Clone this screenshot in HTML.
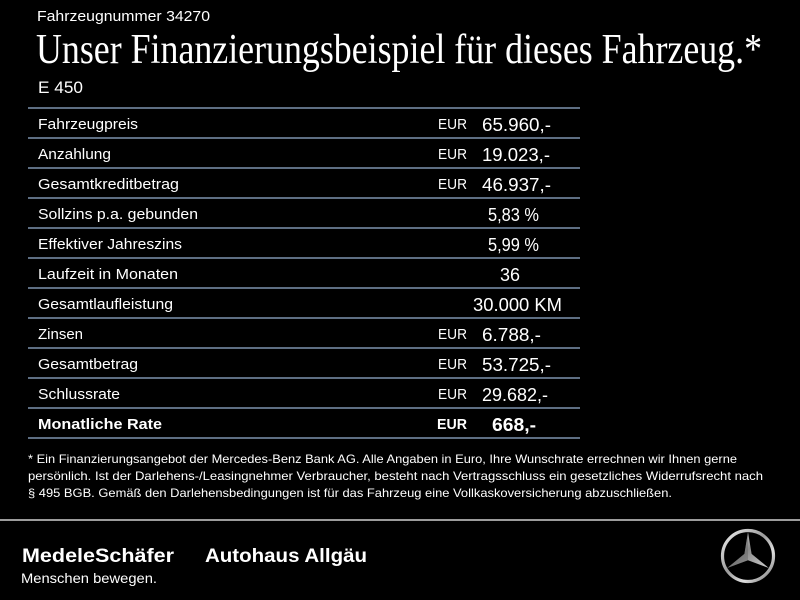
<!DOCTYPE html>
<html><head><meta charset="utf-8">
<style>
html,body{margin:0;padding:0;background:#000;}
svg{display:block;}
text{font-family:"Liberation Sans",sans-serif;fill:#fff;}
.serif{font-family:"Liberation Serif",serif;}
</style></head>
<body>
<svg width="800" height="600" viewBox="0 0 800 600" xmlns="http://www.w3.org/2000/svg">
<defs>
<linearGradient id="ln" x1="0" y1="0" x2="0" y2="1">
<stop offset="0" stop-color="#3e4e62"/><stop offset="0.5" stop-color="#7d8ea3"/><stop offset="1" stop-color="#3e4e62"/>
</linearGradient>
<linearGradient id="silver" x1="0" y1="0" x2="1" y2="1">
<stop offset="0" stop-color="#f4f4f4"/><stop offset="0.45" stop-color="#9a9a9a"/><stop offset="0.7" stop-color="#e0e0e0"/><stop offset="1" stop-color="#6a6a6a"/>
</linearGradient>
<linearGradient id="star" x1="0" y1="0" x2="1" y2="1">
<stop offset="0" stop-color="#e8e8e8"/><stop offset="0.5" stop-color="#8a8a8a"/><stop offset="1" stop-color="#cfcfcf"/>
</linearGradient>
</defs>
<rect width="800" height="600" fill="#000"/>

<text x="37" y="21" font-size="15" textLength="173" lengthAdjust="spacingAndGlyphs">Fahrzeugnummer 34270</text>
<text class="serif" x="36" y="63" font-size="42" textLength="726" lengthAdjust="spacingAndGlyphs">Unser Finanzierungsbeispiel für dieses Fahrzeug.*</text>
<text x="38" y="93" font-size="17" textLength="45" lengthAdjust="spacingAndGlyphs">E 450</text>

<g fill="url(#ln)">
<rect x="28" y="107" width="552" height="2"/>
<rect x="28" y="137" width="552" height="2"/>
<rect x="28" y="167" width="552" height="2"/>
<rect x="28" y="197" width="552" height="2"/>
<rect x="28" y="227" width="552" height="2"/>
<rect x="28" y="257" width="552" height="2"/>
<rect x="28" y="287" width="552" height="2"/>
<rect x="28" y="317" width="552" height="2"/>
<rect x="28" y="347" width="552" height="2"/>
<rect x="28" y="377" width="552" height="2"/>
<rect x="28" y="407" width="552" height="2"/>
<rect x="28" y="437" width="552" height="2"/>
</g>

<g font-size="15">
<text x="38" y="129" textLength="100" lengthAdjust="spacingAndGlyphs">Fahrzeugpreis</text>
<text x="38" y="159" textLength="73" lengthAdjust="spacingAndGlyphs">Anzahlung</text>
<text x="38" y="189" textLength="141" lengthAdjust="spacingAndGlyphs">Gesamtkreditbetrag</text>
<text x="38" y="219" textLength="160" lengthAdjust="spacingAndGlyphs">Sollzins p.a. gebunden</text>
<text x="38" y="249" textLength="144" lengthAdjust="spacingAndGlyphs">Effektiver Jahreszins</text>
<text x="38" y="279" textLength="140" lengthAdjust="spacingAndGlyphs">Laufzeit in Monaten</text>
<text x="38" y="309" textLength="135" lengthAdjust="spacingAndGlyphs">Gesamtlaufleistung</text>
<text x="38" y="339" textLength="45" lengthAdjust="spacingAndGlyphs">Zinsen</text>
<text x="38" y="369" textLength="100" lengthAdjust="spacingAndGlyphs">Gesamtbetrag</text>
<text x="38" y="399" textLength="82" lengthAdjust="spacingAndGlyphs">Schlussrate</text>
<text x="38" y="429" font-weight="bold" textLength="124" lengthAdjust="spacingAndGlyphs">Monatliche Rate</text>
</g>

<g font-size="15">
<text x="438" y="129" textLength="29" lengthAdjust="spacingAndGlyphs">EUR</text>
<text x="438" y="159" textLength="29" lengthAdjust="spacingAndGlyphs">EUR</text>
<text x="438" y="189" textLength="29" lengthAdjust="spacingAndGlyphs">EUR</text>
<text x="438" y="339" textLength="29" lengthAdjust="spacingAndGlyphs">EUR</text>
<text x="438" y="369" textLength="29" lengthAdjust="spacingAndGlyphs">EUR</text>
<text x="438" y="399" textLength="29" lengthAdjust="spacingAndGlyphs">EUR</text>
<text x="437" y="429" font-weight="bold" textLength="30" lengthAdjust="spacingAndGlyphs">EUR</text>
</g>

<g font-size="18">
<text x="482" y="131" textLength="69" lengthAdjust="spacingAndGlyphs">65.960,-</text>
<text x="482" y="161" textLength="68" lengthAdjust="spacingAndGlyphs">19.023,-</text>
<text x="482" y="191" textLength="69" lengthAdjust="spacingAndGlyphs">46.937,-</text>
<text x="488" y="221" textLength="51" lengthAdjust="spacingAndGlyphs">5,83 %</text>
<text x="488" y="251" textLength="51" lengthAdjust="spacingAndGlyphs">5,99 %</text>
<text x="500" y="281" textLength="20" lengthAdjust="spacingAndGlyphs">36</text>
<text x="473" y="311" textLength="89" lengthAdjust="spacingAndGlyphs">30.000 KM</text>
<text x="482" y="341" textLength="59" lengthAdjust="spacingAndGlyphs">6.788,-</text>
<text x="482" y="371" textLength="69" lengthAdjust="spacingAndGlyphs">53.725,-</text>
<text x="482" y="401" textLength="66" lengthAdjust="spacingAndGlyphs">29.682,-</text>
<text x="492" y="431" font-weight="bold" textLength="44" lengthAdjust="spacingAndGlyphs">668,-</text>
</g>

<g font-size="12" fill="#eee">
<text x="28" y="463" textLength="709" lengthAdjust="spacingAndGlyphs">* Ein Finanzierungsangebot der Mercedes-Benz Bank AG. Alle Angaben in Euro, Ihre Wunschrate errechnen wir Ihnen gerne</text>
<text x="28" y="480" textLength="735" lengthAdjust="spacingAndGlyphs">persönlich. Ist der Darlehens-/Leasingnehmer Verbraucher, besteht nach Vertragsschluss ein gesetzliches Widerrufsrecht nach</text>
<text x="28" y="497" textLength="644" lengthAdjust="spacingAndGlyphs">§ 495 BGB. Gemäß den Darlehensbedingungen ist für das Fahrzeug eine Vollkaskoversicherung abzuschließen.</text>
</g>

<rect x="0" y="519" width="800" height="2" fill="#9c9c9c"/>

<text x="22" y="562" font-size="19" font-weight="bold" textLength="152" lengthAdjust="spacingAndGlyphs">MedeleSchäfer</text>
<text x="21" y="583" font-size="14" fill="#dcdcdc" textLength="136" lengthAdjust="spacingAndGlyphs">Menschen bewegen.</text>
<text x="205" y="562" font-size="19" font-weight="bold" textLength="162" lengthAdjust="spacingAndGlyphs">Autohaus Allgäu</text>

<g transform="translate(748,556)">
<circle r="25.5" fill="none" stroke="url(#silver)" stroke-width="3.2"/>
<polygon fill="url(#star)" points="0,-24 3.6,-2.1 20.8,12 0,4.2 -20.8,12 -3.6,-2.1"/>
<polygon fill="#555" points="0,-24 0,4.2 -20.8,12 -3.6,-2.1" opacity="0.35"/>
</g>
</svg>
</body></html>
